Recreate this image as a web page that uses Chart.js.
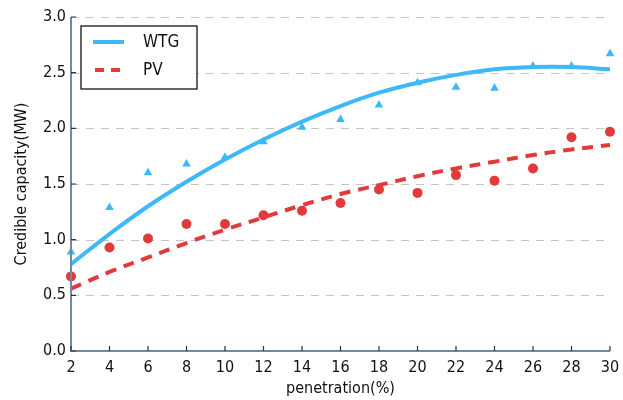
<!DOCTYPE html>
<html>
<head>
<meta charset="utf-8">
<script src="https://cdn.jsdelivr.net/npm/chart.js@4.4.1/dist/chart.umd.min.js"></script>
<style>
  html, body { margin: 0; padding: 0; background: #fff; }
  #wrap { width: 623px; height: 400px; }
</style>
</head>
<body>
<div id="wrap"><canvas id="chart" width="623" height="400"></canvas></div>
<script>
// penetration (%)
const penetration = [2, 4, 6, 8, 10, 12, 14, 16, 18, 20, 22, 24, 26, 28, 30];

// measured points
const wtgPoints = [0.89, 1.29, 1.60, 1.68, 1.74, 1.88, 2.01, 2.08, 2.21, 2.41, 2.37, 2.36, 2.56, 2.56, 2.67];
const pvPoints  = [0.67, 0.93, 1.01, 1.14, 1.14, 1.22, 1.26, 1.33, 1.45, 1.42, 1.58, 1.53, 1.64, 1.92, 1.97];

// fitted curves
const wtgFit = [0.78, 1.05, 1.30, 1.52, 1.72, 1.90, 2.06, 2.20, 2.32, 2.41, 2.48, 2.53, 2.55, 2.55, 2.53];
const pvFit  = [0.56, 0.71, 0.84, 0.97, 1.09, 1.20, 1.31, 1.41, 1.49, 1.57, 1.64, 1.70, 1.76, 1.81, 1.85];

const yTicks = [0, 0.5, 1.0, 1.5, 2.0, 2.5, 3.0];

const BLUE = '#3cb9f6';
const RED = '#e03a3a';
const AXIS = '#6f8ba3';
const FONT = "'DejaVu Sans Condensed', 'DejaVu Sans', sans-serif";

const toXY = (xs, ys) => xs.map((x, i) => ({ x: x, y: ys[i] }));

// dashed horizontal grid
const gridPlugin = {
    id: 'dashGrid',
    beforeDatasetsDraw(chart) {
        const { ctx, chartArea, scales } = chart;
        ctx.save();
        ctx.strokeStyle = '#c4c4c4';
        ctx.lineWidth = 1.2;
        ctx.setLineDash([8, 7]);
        scales.y.ticks.forEach(t => {
            if (t.value === 0) return;
            const py = Math.round(scales.y.getPixelForValue(t.value)) + 0.5;
            ctx.beginPath();
            ctx.moveTo(chartArea.left, py);
            ctx.lineTo(chartArea.right, py);
            ctx.stroke();
        });
        ctx.restore();
    }
};

// axis lines + inward tick marks
const axisPlugin = {
    id: 'axisPlugin',
    afterDraw(chart) {
        const { ctx, chartArea, scales } = chart;
        ctx.save();
        ctx.strokeStyle = AXIS;
        ctx.lineWidth = 2;
        ctx.beginPath();
        ctx.moveTo(chartArea.left, chartArea.top);
        ctx.lineTo(chartArea.left, chartArea.bottom);
        ctx.lineTo(chartArea.right, chartArea.bottom);
        ctx.stroke();
        ctx.lineWidth = 1.2;
        ctx.strokeStyle = '#333';
        ctx.beginPath();
        scales.x.ticks.forEach(t => {
            const px = scales.x.getPixelForValue(t.value);
            ctx.moveTo(px, chartArea.bottom);
            ctx.lineTo(px, chartArea.bottom - 5);
        });
        scales.y.ticks.forEach(t => {
            const py = scales.y.getPixelForValue(t.value);
            ctx.moveTo(chartArea.left, py);
            ctx.lineTo(chartArea.left + 5, py);
        });
        ctx.stroke();
        ctx.restore();
    }
};

// boxed legend inside the plot
const legendPlugin = {
    id: 'boxLegend',
    afterDraw(chart) {
        const { ctx, chartArea } = chart;
        const x0 = chartArea.left + 10, y0 = chartArea.top + 9;
        ctx.save();
        ctx.fillStyle = '#fff';
        ctx.fillRect(x0, y0, 116, 63);
        ctx.strokeStyle = '#000';
        ctx.lineWidth = 1.2;
        ctx.strokeRect(x0, y0, 116, 63);
        ctx.lineWidth = 4;
        ctx.strokeStyle = BLUE;
        ctx.beginPath();
        ctx.moveTo(x0 + 12, y0 + 16);
        ctx.lineTo(x0 + 43, y0 + 16);
        ctx.stroke();
        ctx.strokeStyle = RED;
        ctx.setLineDash([9, 7]);
        ctx.beginPath();
        ctx.moveTo(x0 + 14, y0 + 44);
        ctx.lineTo(x0 + 43, y0 + 44);
        ctx.stroke();
        ctx.setLineDash([]);
        ctx.fillStyle = '#111';
        ctx.font = '17px ' + FONT;
        ctx.textBaseline = 'middle';
        ctx.fillText('WTG', x0 + 62, y0 + 17);
        ctx.fillText('PV', x0 + 62, y0 + 45);
        ctx.restore();
    }
};

new Chart(document.getElementById('chart'), {
    type: 'scatter',
    data: {
        datasets: [{
            label: 'WTG fit',
            type: 'line',
            data: toXY(penetration, wtgFit),
            borderColor: BLUE,
            borderWidth: 4,
            pointRadius: 0,
            tension: 0.4,
            fill: false,
        }, {
            label: 'PV fit',
            type: 'line',
            data: toXY(penetration, pvFit),
            borderColor: RED,
            borderWidth: 4,
            borderDash: [11, 8],
            pointRadius: 0,
            tension: 0.4,
            fill: false,
        }, {
            label: 'WTG',
            data: toXY(penetration, wtgPoints),
            pointStyle: 'triangle',
            pointRadius: 5,
            backgroundColor: BLUE,
            borderColor: BLUE,
            borderWidth: 0,
        }, {
            label: 'PV',
            data: toXY(penetration, pvPoints),
            pointStyle: 'circle',
            pointRadius: 5,
            backgroundColor: RED,
            borderColor: RED,
            borderWidth: 0,
        }]
    },
    options: {
        responsive: false,
        animation: false,
        devicePixelRatio: 1,
        clip: false,
        layout: { padding: { top: 17, right: 0, left: 0, bottom: 0 } },
        plugins: { legend: { display: false }, tooltip: { enabled: false } },
        scales: {
            x: {
                type: 'linear',
                min: 2,
                max: 30,
                afterFit: s => { s.height = 49; s.paddingRight = 13; s.paddingLeft = 0; },
                ticks: { stepSize: 2, color: '#111', font: { family: FONT, size: 16 }, padding: 7, maxRotation: 0, autoSkip: false },
                grid: { display: false, drawTicks: false },
                border: { display: false },
                title: { display: true, text: 'penetration(%)', color: '#111', font: { family: FONT, size: 16 }, padding: { top: 0, bottom: 2 } }
            },
            y: {
                min: 0,
                max: 3,
                afterFit: s => { s.width = 71; },
                afterBuildTicks: s => { s.ticks = yTicks.map(v => ({ value: v })); },
                ticks: { color: '#111', font: { family: FONT, size: 16 }, padding: 5, callback: v => v.toFixed(1) },
                grid: { display: false, drawTicks: false },
                border: { display: false },
                title: { display: true, text: 'Credible capacity(MW)', color: '#111', font: { family: FONT, size: 16 }, padding: { top: 12, bottom: 0 } }
            }
        }
    },
    plugins: [gridPlugin, axisPlugin, legendPlugin]
});
</script>
</body>
</html>
